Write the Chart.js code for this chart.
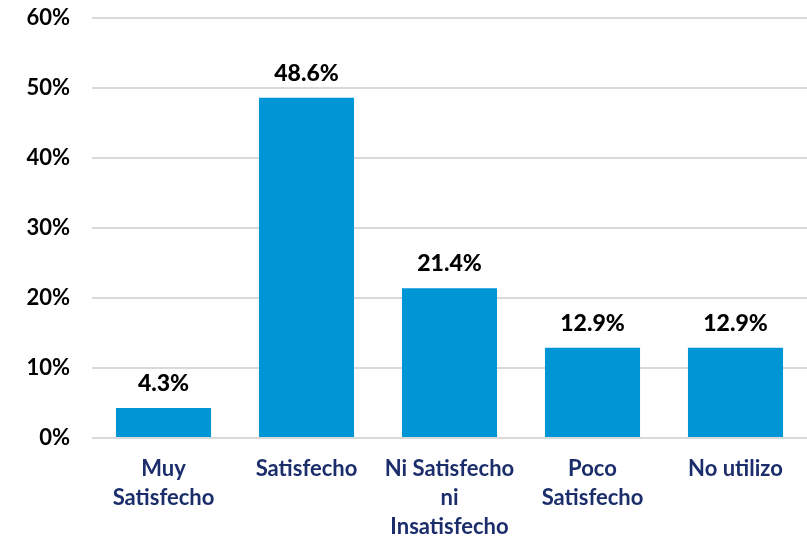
<!DOCTYPE html>
<html>
<head>
<meta charset="utf-8">
<script src="https://cdn.jsdelivr.net/npm/chart.js@4"></script>
<style>
  html, body { margin: 0; padding: 0; background: #fff; }
  #wrap { width: 807px; height: 538px; }
</style>
</head>
<body>
<div id="wrap"><canvas id="chart" width="807" height="538"></canvas></div>
<script>
const categories = [
  ['Muy', 'Satisfecho'],
  'Satisfecho',
  ['Ni Satisfecho', 'ni', 'Insatisfecho'],
  ['Poco', 'Satisfecho'],
  'No utilizo'
];
const values = [4.3, 48.6, 21.4, 12.9, 12.9];
const yTicks = [0, 10, 20, 30, 40, 50, 60];

const FONT = "Lato, 'Open Sans', sans-serif";

// simple value labels above each bar
const barLabels = {
  id: 'barLabels',
  afterDatasetsDraw(chart) {
    const ctx = chart.ctx;
    const meta = chart.getDatasetMeta(0);
    ctx.save();
    ctx.font = "900 23px " + FONT;
    ctx.fillStyle = '#000';
    ctx.textAlign = 'center';
    ctx.textBaseline = 'bottom';
    meta.data.forEach((bar, i) => {
      ctx.fillText(values[i].toFixed(1) + '%', bar.x, bar.y - 13);
    });
    ctx.restore();
  }
};

new Chart(document.getElementById('chart'), {
  type: 'bar',
  data: {
    labels: categories,
    datasets: [{
      data: values,
      backgroundColor: '#0095D5',
      borderWidth: 0,
      categoryPercentage: 1,
      barPercentage: 0.665
    }]
  },
  options: {
    responsive: false,
    animation: false,
    layout: { padding: { top: 18, right: 0, left: 0, bottom: 0 } },
    plugins: {
      legend: { display: false },
      tooltip: { enabled: false }
    },
    scales: {
      x: {
        grid: { display: false, drawTicks: false },
        border: { display: false },
        ticks: {
          color: '#1B2E6B',
          font: { family: FONT, size: 22, weight: 'bold', lineHeight: 1.3 },
          padding: 17,
          maxRotation: 0,
          autoSkip: false
        },
        afterFit(scale) { scale.height = 100; }
      },
      y: {
        min: 0,
        max: 60,
        afterBuildTicks(scale) { scale.ticks = yTicks.map(v => ({ value: v })); },
        grid: { color: '#D9D9D9', lineWidth: 2, drawTicks: false },
        border: { display: false },
        ticks: {
          color: '#000',
          font: { family: FONT, size: 22, weight: 'bold' },
          padding: 22,
          callback: v => v + '%'
        },
        afterFit(scale) {
          scale.width = 92;
          scale.paddingTop = 0;
          scale.paddingBottom = 0;
        }
      }
    }
  },
  plugins: [barLabels]
});
</script>
</body>
</html>
